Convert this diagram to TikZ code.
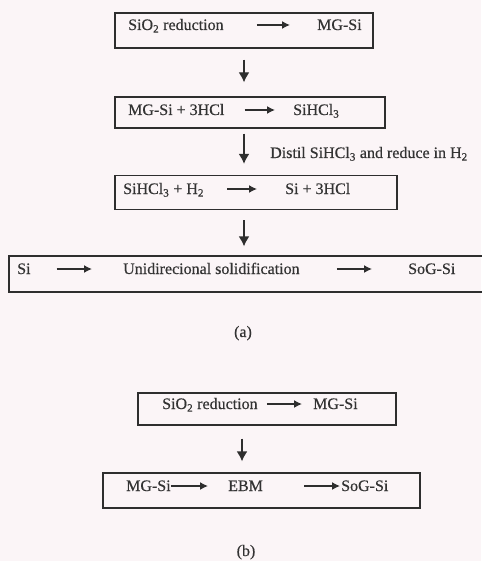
\documentclass[tikz,border=0pt]{standalone}
\usepackage{fontspec}
\setmainfont{Liberation Serif}[FakeBold=0.5]
\usetikzlibrary{arrows.meta}
\definecolor{bg}{HTML}{FBF5F7}
\definecolor{ink}{HTML}{2E2E2E}
\definecolor{txt}{HTML}{333333}
\begin{document}
\begin{tikzpicture}[x=1pt,y=-1pt,
  box/.style={draw=ink,line width=1.4pt,inner sep=0pt},
  lbl/.style={inner sep=0pt,anchor=base west,text=txt,text height=10pt,text depth=0pt,font=\fontsize{16}{19}\selectfont},
  figcap/.style={inner sep=0pt,anchor=base,text=txt,font=\fontsize{16}{19}\selectfont},
  harrow/.style={draw=ink,line width=1.4pt,-{Latex[length=8pt,width=8pt]}},
  varrow/.style={draw=ink,line width=1.4pt,-{Latex[length=10pt,width=11pt]}}]
\fill[bg] (0,0) rectangle (481,561);
\useasboundingbox (0,0) rectangle (481,561);
% boxes
\node[box,minimum width=258pt,minimum height=35pt] (b1) at (244,30.5) {};
\node[box,minimum width=270pt,minimum height=31pt] (b2) at (250,112.5) {};
\node[box,minimum width=282pt,minimum height=34pt] (b3) at (256,192.5) {};
\node[box,minimum width=475pt,minimum height=36pt] (b4) at (246.5,274) {};
\node[box,minimum width=258pt,minimum height=32pt] (b5) at (267,409) {};
\node[box,minimum width=317pt,minimum height=35pt] (b6) at (261.5,490.5) {};
\coordinate (ax) at (244,0);
\coordinate (bx) at (242,0);
% box 1
\node[lbl] (t11) at (128,30) {SiO\textsubscript{2} reduction};
\node[lbl] (t12) at (317,30) {MG-Si};
\draw[harrow,shorten <=33pt,shorten >=27pt] (t11.east) -- (t12.west);
% box 2
\node[lbl] (t21) at (128,115) {MG-Si + 3HCl};
\node[lbl] (t22) at (293,115) {SiHCl\textsubscript{3}};
\draw[harrow,shorten <=20pt,shorten >=18pt] (t21.east) -- (t22.west);
% box 3
\node[lbl] (t31) at (123,194) {SiHCl\textsubscript{3} + H\textsubscript{2}};
\node[lbl] (t32) at (285,194) {Si + 3HCl};
\draw[harrow,shorten <=23pt,shorten >=28pt] (t31.east) -- (t32.west);
% box 4
\node[lbl] (t41) at (17,274) {Si};
\node[lbl] (t42) at (123,274) {Unidirecional solidification};
\node[lbl] (t43) at (408,274) {SoG-Si};
\draw[harrow,shorten <=26pt,shorten >=31pt] (t41.east) -- (t42.west);
\draw[harrow,shorten <=37pt,shorten >=36pt] (t42.east) -- (t43.west);
% vertical arrows (a)
\draw[varrow,shorten <=11pt,shorten >=14pt] (b1.south -| ax) -- (b2.north -| ax);
\draw[varrow,shorten <=5pt,shorten >=11pt] (b2.south -| ax) -- (b3.north -| ax);
\node[lbl] (dl) at (270,158) {Distil SiHCl\textsubscript{3} and reduce in H\textsubscript{2}};
\draw[varrow,shorten <=10pt,shorten >=9pt] (b3.south -| ax) -- (b4.north -| ax);
\node[figcap] (capa) at (243,337) {(a)};
% box 5
\node[lbl] (t51) at (162,409) {SiO\textsubscript{2} reduction};
\node[lbl] (t52) at (313,409) {MG-Si};
\draw[harrow,shorten <=9pt,shorten >=11pt] (t51.east) -- (t52.west);
\draw[varrow,shorten <=13pt,shorten >=11pt] (b5.south -| bx) -- (b6.north -| bx);
% box 6
\node[lbl] (t61) at (126,491) {MG-Si};
\node[lbl] (t62) at (228,491) {EBM};
\node[lbl] (t63) at (341,491) {SoG-Si};
\draw[harrow,shorten <=0pt,shorten >=20pt] (t61.east) -- (t62.west);
\draw[harrow,shorten <=41pt,shorten >=1pt] (t62.east) -- (t63.west);
\node[figcap] (capb) at (246,556) {(b)};
\end{tikzpicture}
\end{document}
